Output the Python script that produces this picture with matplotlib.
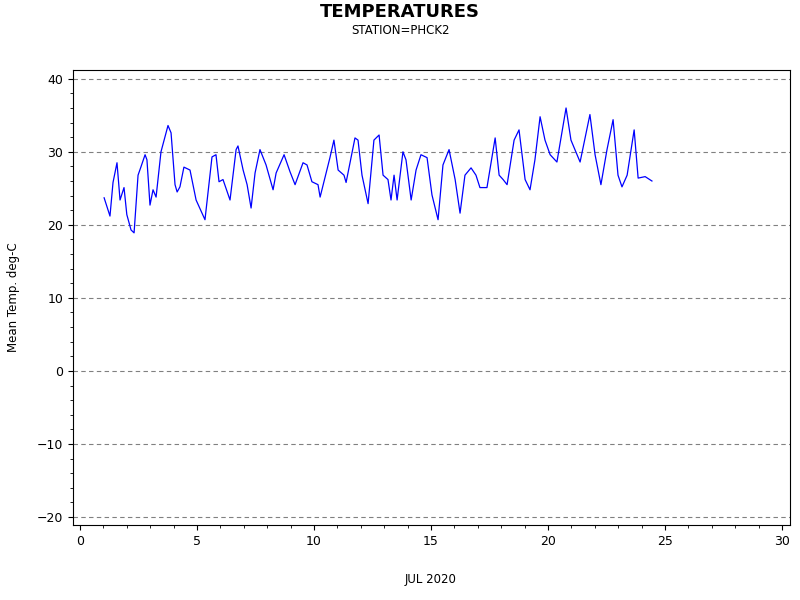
import matplotlib
matplotlib.use("Agg")
import matplotlib.pyplot as plt
from matplotlib.ticker import MultipleLocator

days = [1.03,1.28,1.41,1.58,1.71,1.88,2.0,2.18,2.31,2.48,2.6,2.78,2.86,2.99,3.12,3.25,3.46,3.76,3.89,4.06,4.15,4.27,4.44,4.7,4.96,5.34,5.64,5.81,5.94,6.11,6.41,6.67,6.75,6.97,7.14,7.31,7.48,7.69,7.95,8.25,8.38,8.72,8.97,9.19,9.53,9.7,9.91,10.17,10.26,10.68,10.85,11.03,11.28,11.37,11.75,11.88,12.05,12.31,12.56,12.78,12.95,13.16,13.29,13.42,13.55,13.8,13.93,14.15,14.36,14.57,14.83,15.04,15.3,15.51,15.77,16.03,16.24,16.45,16.71,16.92,17.09,17.39,17.74,17.91,18.08,18.25,18.55,18.76,19.02,19.23,19.44,19.66,19.87,20.09,20.38,20.77,20.98,21.37,21.79,22.01,22.26,22.52,22.78,22.99,23.16,23.38,23.68,23.85,24.15,24.44]
temps = [23.7,21.2,25.8,28.5,23.4,25.1,21.4,19.3,18.9,26.8,27.9,29.6,28.9,22.7,24.8,23.8,30.0,33.6,32.6,25.5,24.5,25.2,27.9,27.5,23.4,20.7,29.3,29.6,25.9,26.2,23.4,30.3,30.8,27.5,25.5,22.3,27.1,30.3,28.2,24.8,27.1,29.6,27.3,25.5,28.5,28.2,25.9,25.5,23.8,29.2,31.6,27.5,26.8,25.8,31.9,31.6,26.8,22.9,31.6,32.3,26.8,26.2,23.4,26.8,23.4,30.0,28.9,23.4,27.5,29.6,29.2,24.1,20.7,28.2,30.3,26.2,21.6,26.8,27.8,26.8,25.1,25.1,31.9,26.8,26.2,25.5,31.6,33.0,26.2,24.8,28.9,34.8,31.6,29.6,28.6,36.0,31.6,28.6,35.1,29.6,25.5,30.3,34.4,26.8,25.2,26.8,33.0,26.4,26.6,26.0]

fig = plt.figure(figsize=(8, 6), dpi=100)
ax = fig.add_axes([73/800, 1-525/600, 717/800, 455/600])
ax.plot(days, temps, color="blue", lw=0.9)
ax.set_xlim(-0.3, 30.34)
ax.set_ylim(-21.1, 41.2)
ax.xaxis.set_major_locator(MultipleLocator(5))
ax.xaxis.set_minor_locator(MultipleLocator(1))
ax.yaxis.set_major_locator(MultipleLocator(10))
ax.yaxis.set_minor_locator(MultipleLocator(2))
ax.tick_params(direction="out", labelsize=9)
ax.grid(axis="y", which="major", linestyle=(0, (4, 3)), color="gray", lw=0.8)
ax.set_ylabel("Mean Temp. deg-C", fontsize=8.5, labelpad=12)
fig.text(431/800, 1-580/600, "JUL 2020", ha="center", va="center", fontsize=8.5)
fig.text(0.5, 1-12/600, "TEMPERATURES", ha="center", va="center", fontsize=13, fontweight="bold")
fig.text(0.5, 1-30/600, "STATION=PHCK2", ha="center", va="center", fontsize=8.5)
fig.savefig("out.png", dpi=100)
